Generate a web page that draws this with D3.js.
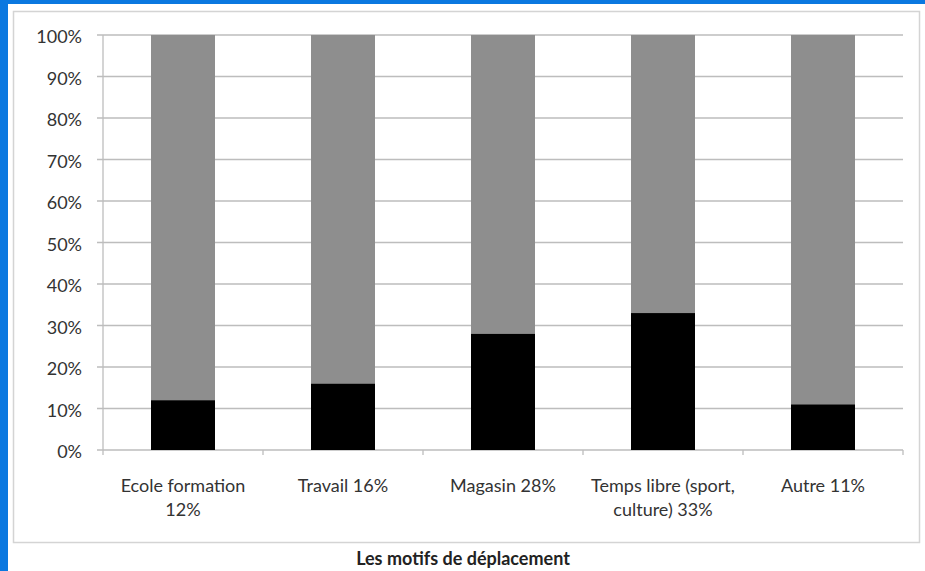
<!DOCTYPE html>
<html><head><meta charset="utf-8">
<script src="https://cdn.jsdelivr.net/npm/d3@7"></script>
<style>body{margin:0;background:#fff}svg{display:block}text{font-family:Lato,"Open Sans",sans-serif}</style>
</head><body>
<svg id="c" width="925" height="571"></svg>
<script>
const categories = [["Ecole formation","12%"],["Travail 16%"],["Magasin 28%"],["Temps libre (sport,","culture) 33%"],["Autre 11%"]];
const share = [12, 16, 28, 33, 11];
const rest = [88, 84, 72, 67, 89];
const yTicks = [0,10,20,30,40,50,60,70,80,90,100];
const xTitle = "Les motifs de déplacement";

const svg = d3.select("#c");
svg.append("rect").attr("x",0).attr("y",0).attr("width",925).attr("height",571).attr("fill","#fff");
svg.append("rect").attr("x",0).attr("y",0).attr("width",8).attr("height",571).attr("fill","#0a78e0");
svg.append("rect").attr("x",0).attr("y",0).attr("width",925).attr("height",4).attr("fill","#0a78e0");
svg.append("rect").attr("x",13.5).attr("y",11.5).attr("width",906).attr("height",531).attr("fill","#fff").attr("stroke","#d4d4d4").attr("stroke-width",1.5);

const idx = d3.range(categories.length);
const x = d3.scaleBand().domain(idx).range([103,903]).paddingInner(0.6).paddingOuter(0.3);
const xb = d3.scaleBand().domain(idx).range([103,903]);
const y = d3.scaleLinear().domain([0,100]).range([450,35]);

svg.append("g").selectAll("line").data(yTicks).join("line")
  .attr("x1",97).attr("x2",903).attr("y1",d=>y(d)).attr("y2",d=>y(d))
  .attr("stroke","#bdbdbd").attr("stroke-width",1.3);
svg.append("line").attr("x1",103).attr("x2",103).attr("y1",y(100)).attr("y2",y(0)).attr("stroke","#bdbdbd").attr("stroke-width",1.3);
svg.append("g").selectAll("text").data(yTicks).join("text")
  .attr("x",82).attr("y",d=>y(d)+8).attr("text-anchor","end")
  .attr("font-size",18).attr("fill","#333").text(d=>d+"%");
svg.append("g").selectAll("line").data(d3.range(categories.length+1)).join("line")
  .attr("x1",d=>103+d*xb.bandwidth()).attr("x2",d=>103+d*xb.bandwidth())
  .attr("y1",450).attr("y2",455).attr("stroke","#bdbdbd").attr("stroke-width",1.3);

svg.append("g").selectAll("rect").data(idx).join("rect")
  .attr("x",i=>x(i)).attr("width",x.bandwidth())
  .attr("y",i=>y(share[i]+rest[i])).attr("height",i=>y(share[i])-y(share[i]+rest[i]))
  .attr("fill","#8e8e8e");
svg.append("g").selectAll("rect").data(idx).join("rect")
  .attr("x",i=>x(i)).attr("width",x.bandwidth())
  .attr("y",i=>y(share[i])).attr("height",i=>y(0)-y(share[i]))
  .attr("fill","#000");

const lab = svg.append("g").selectAll("text").data(idx).join("text")
  .attr("x",i=>xb(i)+xb.bandwidth()/2).attr("y",492).attr("text-anchor","middle")
  .attr("font-size",18).attr("fill","#333");
lab.each(function(i){
  const t=d3.select(this);
  categories[i].forEach((s,k)=>t.append("tspan").attr("x",xb(i)+xb.bandwidth()/2).attr("dy",k?24:0).text(s));
});

svg.append("text").attr("x",463).attr("y",565).attr("text-anchor","middle")
  .attr("font-size",18).attr("font-weight","bold").attr("fill","#222").text(xTitle);
</script>
</body></html>
